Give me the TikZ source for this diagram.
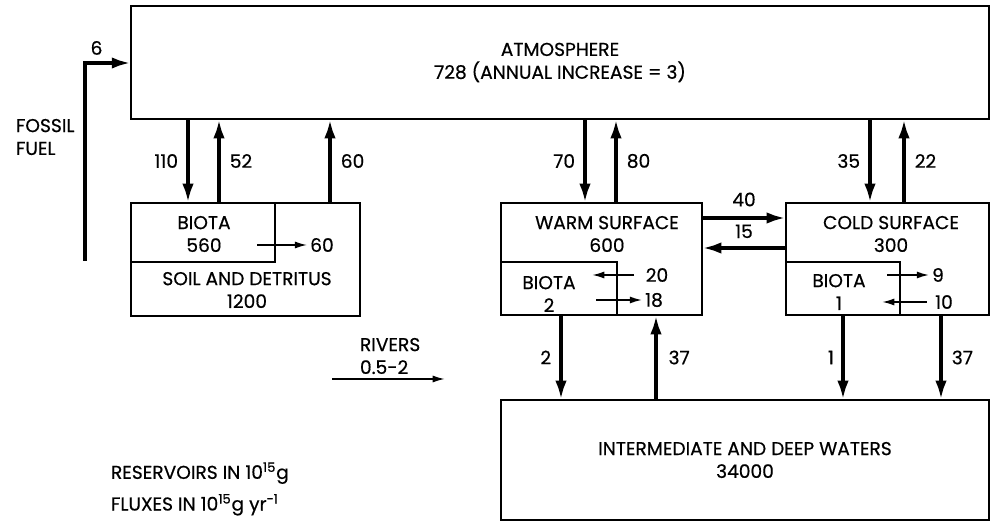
\documentclass[tikz,border=0pt]{standalone}
\usepackage{fontspec}
\setmainfont{Poppins}[FakeBold=0.5]
\usetikzlibrary{arrows.meta}

\begin{document}
\begin{tikzpicture}[x=0.02cm,y=-0.02cm,
    box/.style={draw,line width=1.2pt,inner sep=0pt,outer sep=0pt},
    flux/.style={line width=2.3pt,-{Latex[length=11pt,width=6.5pt]}},
    smallflux/.style={line width=1pt,-{Latex[length=7pt,width=4pt]}},
    lbl/.style={font=\fontsize{10.6}{13}\selectfont,align=center,inner sep=1.5pt}]
  \useasboundingbox (0,0) rectangle (995,523);

  % reservoirs
  \node[box,lbl,minimum width=17.16cm,minimum height=2.26cm] (atm) at (560,62.5) {ATMOSPHERE\\728 (ANNUAL INCREASE = 3)};
  \node[box,minimum width=4.58cm,minimum height=2.26cm] (land) at (245.5,259.5) {};
  \node[box,minimum width=2.88cm,minimum height=1.18cm] (landbio) at (203,232.5) {};
  \node[box,minimum width=4.02cm,minimum height=2.24cm] (warm) at (601.5,259) {};
  \node[box,minimum width=2.32cm,minimum height=1.06cm] (warmbio) at (559,288.5) {};
  \node[box,minimum width=4.06cm,minimum height=2.24cm] (cold) at (887.5,259) {};
  \node[box,minimum width=2.28cm,minimum height=1.06cm] (coldbio) at (843,288.5) {};
  \node[box,lbl,minimum width=9.76cm,minimum height=2.40cm] (deep) at (745,460) {INTERMEDIATE AND DEEP WATERS\\34000};

  \node[lbl] (landbiotxt) at (204,234) {BIOTA\\560};
  \node[lbl] (soil) at (247,290) {SOIL AND DETRITUS\\1200};
  \node[lbl] (warmtxt) at (607,234) {WARM SURFACE\\600};
  \node[lbl] (warmbiotxt) at (549,294) {BIOTA\\2};
  \node[lbl] (coldtxt) at (891,234) {COLD SURFACE\\300};
  \node[lbl] (coldbiotxt) at (839,292) {BIOTA\\1};

  % fossil fuel
  \node[lbl,anchor=west,align=left] (fossil) at (13,137) {FOSSIL\\FUEL};
  \coordinate (ff) at (85,261);
  \coordinate (fftop) at (85,63);
  \draw[flux] (ff) -- (fftop) -- (atm.west |- fftop) node[pos=0.25,above=2pt,lbl] {6};

  % atmosphere exchange
  \coordinate (x110) at (188,0);
  \coordinate (x52) at (219,0);
  \coordinate (x60) at (330,0);
  \coordinate (x70) at (585,0);
  \coordinate (x80) at (616,0);
  \coordinate (x35) at (870,0);
  \coordinate (x22) at (904,0);
  \draw[flux] (atm.south -| x110) -- (landbio.north -| x110) node[midway,left=3pt,lbl] {110};
  \draw[flux] (landbio.north -| x52) -- (atm.south -| x52) node[midway,right=3.5pt,lbl] {52};
  \draw[flux] (land.north -| x60) -- (atm.south -| x60) node[midway,right=3.5pt,lbl] {60};
  \draw[flux] (atm.south -| x70) -- (warm.north -| x70) node[midway,left=3pt,lbl] {70};
  \draw[flux] (warm.north -| x80) -- (atm.south -| x80) node[midway,right=3.5pt,lbl] {80};
  \draw[flux] (atm.south -| x35) -- (cold.north -| x35) node[midway,left=3pt,lbl] {35};
  \draw[flux] (cold.north -| x22) -- (atm.south -| x22) node[midway,right=3.5pt,lbl] {22};

  % surface exchange
  \coordinate (y40) at (0,218);
  \coordinate (y15) at (0,248);
  \draw[flux] (warm.east |- y40) -- (cold.west |- y40) node[midway,above=4pt,lbl] {40};
  \draw[flux] (cold.west |- y15) -- (warm.east |- y15) node[midway,above=3pt,lbl] {15};

  % deep exchange
  \coordinate (x2) at (561,0);
  \coordinate (x37a) at (656,0);
  \coordinate (x1) at (843,0);
  \coordinate (x37b) at (941,0);
  \draw[flux] (warm.south -| x2) -- (deep.north -| x2) node[midway,left=3pt,lbl] {2};
  \draw[flux] (deep.north -| x37a) -- (warm.south -| x37a) node[midway,right=4.5pt,lbl] {37};
  \draw[flux] (cold.south -| x1) -- (deep.north -| x1) node[midway,left=2.5pt,lbl] {1};
  \draw[flux] (cold.south -| x37b) -- (deep.north -| x37b) node[midway,right=3.5pt,lbl] {37};

  % biota fluxes
  \node[lbl] (litter) at (322,245) {60};
  \coordinate (lit0) at (257,245);
  \draw[smallflux] (lit0) -- (litter.west);
  \node[lbl] (w20) at (657,275) {20};
  \coordinate (w20e) at (592,275);
  \draw[smallflux] ([xshift=-5pt]w20.west) -- (w20e);
  \node[lbl] (w18) at (654,300) {18};
  \coordinate (w18s) at (596,300);
  \draw[smallflux] (w18s) -- (w18.west);
  \node[lbl] (c9) at (938,275) {9};
  \coordinate (c9s) at (887,275);
  \draw[smallflux] (c9s) -- (c9.west);
  \node[lbl] (c10) at (944,302) {10};
  \coordinate (c10e) at (882,302);
  \draw[smallflux] ([xshift=-3pt]c10.west) -- (c10e);

  % rivers
  \node[lbl,anchor=west,align=left] (rivers) at (357,356) {RIVERS\\0.5-2};
  \coordinate (r0) at (332,379);
  \coordinate (r1) at (445,379);
  \draw[smallflux] (r0) -- (r1);

  \node[lbl,anchor=west,align=left] (units) at (108,489) {RESERVOIRS IN 10\textsuperscript{15}g\\[5pt]FLUXES IN 10\textsuperscript{15}g yr\textsuperscript{-1}};
\end{tikzpicture}
\end{document}
